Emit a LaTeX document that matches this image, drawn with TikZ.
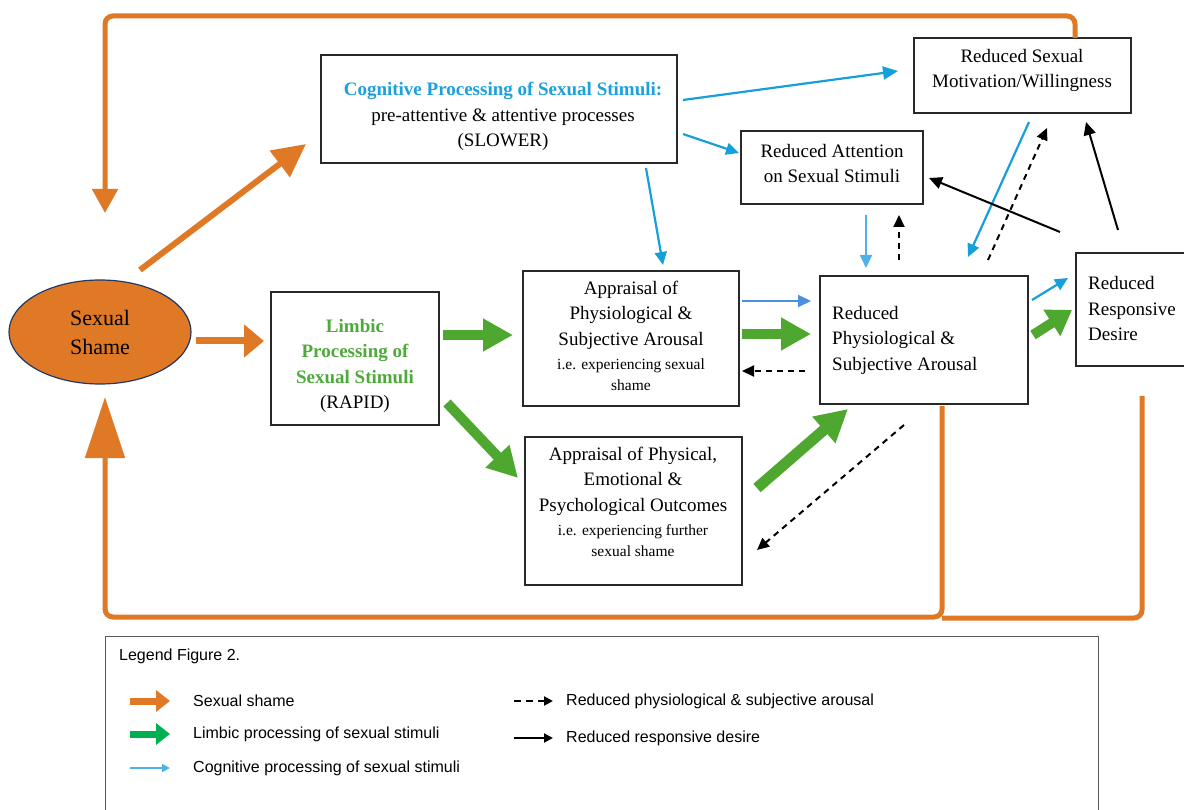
\documentclass[tikz,border=0pt]{standalone}
\usepackage{fontspec}
\setmainfont{Liberation Serif}
\newfontfamily\legendfont{Liberation Sans}
\usetikzlibrary{arrows.meta,shapes.geometric,calc}
\definecolor{shameorange}{RGB}{224,121,38}
\definecolor{limgreen}{RGB}{78,167,46}
\definecolor{cogblue}{RGB}{22,160,218}
\definecolor{midblue}{RGB}{74,144,222}
\definecolor{legblue}{RGB}{77,178,230}
\definecolor{leggreen}{RGB}{0,176,80}
\definecolor{titleblue}{RGB}{27,161,219}
\definecolor{titlegreen}{RGB}{78,170,58}
\definecolor{navyline}{RGB}{31,56,100}
\definecolor{boxline}{RGB}{40,40,40}
\begin{document}
\begin{tikzpicture}[x=1pt,y=-1pt,
  box/.style={draw=boxline,line width=1.6pt,inner sep=0pt},
  maintxt/.style={font=\fontsize{19}{25.5}\selectfont,align=center,inner sep=0pt},
  smalltxt/.style={font=\fontsize{15.5}{21}\selectfont,align=center,inner sep=0pt},
  orangeline/.style={draw=shameorange,line width=5pt,rounded corners=8pt},
  greenarrow/.style={draw=limgreen,line width=10pt,-{Triangle[length=30pt,width=31pt]}},
  bluearrow/.style={draw=cogblue,line width=2.2pt,-{Triangle[length=13pt,width=12pt]}},
  dasharrow/.style={draw=black,line width=2pt,dash pattern=on 6pt off 5pt,-{Triangle[length=12pt,width=11pt]}},
  solidarrow/.style={draw=black,line width=2pt,-{Triangle[length=13pt,width=12pt]}},
  legtxt/.style={font=\legendfont\fontsize{16}{19}\selectfont,anchor=west,inner sep=0pt}]
\clip (0,0) rectangle (1184,810);
\fill[white] (0,0) rectangle (1184,810);

% ---------- boxes ----------
\node[draw=navyline,line width=1.2pt,fill=shameorange,ellipse,minimum width=182pt,minimum height=104pt,
  font=\fontsize{22}{29}\selectfont,align=center] (shame) at (100,332) {Sexual\\Shame};
\node[box,minimum width=356pt,minimum height=108pt] (cog) at (499,109) {};
\node[box,minimum width=168pt,minimum height=133pt] (lim) at (355,358.5) {};
\node[box,minimum width=216pt,minimum height=135pt] (app1) at (631,338.5) {};
\node[box,minimum width=217pt,minimum height=148pt] (app2) at (633.5,511) {};
\node[box,minimum width=208pt,minimum height=128pt] (red) at (924,340) {};
\node[box,minimum width=217pt,minimum height=75pt] (mot) at (1022.5,75.5) {};
\node[box,minimum width=182pt,minimum height=73pt] (att) at (832,167.5) {};
\node[box,minimum width=114pt,minimum height=113pt] (des) at (1133,309.5) {};

% ---------- texts ----------
\node[maintxt] (cogtxt) at (503,116.5) {{\color{titleblue}\bfseries Cognitive Processing of Sexual Stimuli:}\\pre-attentive \& attentive processes\\(SLOWER)};
\node[maintxt] (limtxt) at (355,366) {{\color{titlegreen}\bfseries Limbic}\\{\color{titlegreen}\bfseries Processing of}\\{\color{titlegreen}\bfseries Sexual Stimuli}\\(RAPID)};
\node[maintxt] (app1txt) at (631,315) {Appraisal of\\Physiological \&\\Subjective Arousal};
\node[smalltxt] (app1sub) at (631,375) {i.e. experiencing sexual\\shame};
\node[maintxt] (app2txt) at (633,481) {Appraisal of Physical,\\Emotional \&\\Psychological Outcomes};
\node[smalltxt] (app2sub) at (633,541) {i.e. experiencing further\\sexual shame};
\node[maintxt,align=left,anchor=west] (redtxt) at (832,340) {Reduced\\Physiological \&\\Subjective Arousal};
\node[maintxt] (mottxt) at (1022,70.5) {Reduced Sexual\\Motivation/Willingness};
\node[maintxt] (atttxt) at (832,163.5) {Reduced Attention\\on Sexual Stimuli};
\node[maintxt,align=left,anchor=west] (destxt) at (1088,309) {Reduced\\Responsive\\Desire};

% ---------- connector end points ----------
\coordinate (motTop) at (1075,38);
\coordinate (shameTopIn) at (105,213);
\coordinate (shameDiag) at (140,270);
\coordinate (cogIn) at (306,144);
\coordinate (shameOut) at (196,341);
\coordinate (limIn) at (264,341);
\coordinate (redBottom) at (942,406);
\coordinate (shameBottomIn) at (105,397);
\coordinate (desBottom) at (1142,396);
\coordinate (joinPt) at (942,618);

% ---------- orange loops ----------
\draw[orangeline,-{Triangle[length=24pt,width=25pt]}] (motTop) -- (1075,16) -- (105,16) -- (shameTopIn);
\draw[draw=shameorange,line width=6pt,-{Triangle[length=33pt,width=32pt]}] (shameDiag) -- (cogIn);
\draw[draw=shameorange,line width=7pt,-{Triangle[length=20pt,width=32pt]}] (shameOut) -- (limIn);
\draw[orangeline,-{Triangle[length=61pt,width=39pt]}] (redBottom) -- (942,617) -- (105,617) -- (shameBottomIn);
\draw[orangeline] (desBottom) -- (1142,618) -- (joinPt);

% ---------- green arrows ----------
\draw[greenarrow] (443,335) coordinate (g1s) -- (513,335) coordinate (g1e);
\draw[greenarrow] (447,403) coordinate (g2s) -- (518,478) coordinate (g2e);
\draw[greenarrow] (742,334) coordinate (g3s) -- (811,334) coordinate (g3e);
\draw[greenarrow,line width=11pt,-{Triangle[length=32pt,width=33pt]}] (757,488) coordinate (g4s) -- (848,409) coordinate (g4e);
\draw[greenarrow,-{Triangle[length=24pt,width=30pt]}] (1033,335) coordinate (g5s) -- (1072,310) coordinate (g5e);

% ---------- blue arrows ----------
\draw[bluearrow,-{Triangle[length=15pt,width=13pt]}] (683,100) coordinate (b1s) -- (898,71) coordinate (b1e);
\draw[bluearrow] (683,134) coordinate (b2s) -- (739,153) coordinate (b2e);
\draw[bluearrow] (646,168) coordinate (b3s) -- (663,265) coordinate (b3e);
\draw[bluearrow,draw=legblue,line width=1.8pt] (866,215) coordinate (b4s) -- (866,268) coordinate (b4e);
\draw[bluearrow] (1029,122) coordinate (b5s) -- (968,257) coordinate (b5e);
\draw[bluearrow,draw=midblue,line width=2pt] (742,301) coordinate (b6s) -- (811,301) coordinate (b6e);
\draw[bluearrow] (1032,300) coordinate (b7s) -- (1068,278) coordinate (b7e);

% ---------- dashed arrows ----------
\draw[dasharrow] (805,371) coordinate (d1s) -- (742,371) coordinate (d1e);
\draw[dasharrow] (904,425) coordinate (d2s) -- (757,550) coordinate (d2e);
\draw[dasharrow] (899,260) coordinate (d3s) -- (899,215) coordinate (d3e);
\draw[dasharrow] (988,260) coordinate (d4s) -- (1047,128) coordinate (d4e);

% ---------- solid black arrows ----------
\draw[solidarrow] (1060,232) coordinate (s1s) -- (929,178) coordinate (s1e);
\draw[solidarrow] (1118,230) coordinate (s2s) -- (1086,122) coordinate (s2e);

% ---------- legend ----------
\draw[draw=black!65,line width=1pt] (105,815) -- (105,636) -- (1098,636) -- (1098,815);
\node[legtxt] (legtitle) at (119,656) {Legend Figure 2.};
\coordinate (lo1) at (130,701); \coordinate (lo2) at (170,701);
\coordinate (lg1) at (130,734); \coordinate (lg2) at (170,734);
\coordinate (lb1) at (130,768); \coordinate (lb2) at (170,768);
\coordinate (ld1) at (514,701); \coordinate (ld2) at (553,701);
\coordinate (ls1) at (514,738); \coordinate (ls2) at (553,738);
\draw[draw=shameorange,line width=7pt,-{Triangle[length=14pt,width=21pt]}] (lo1) -- (lo2);
\draw[draw=leggreen,line width=7pt,-{Triangle[length=14pt,width=21pt]}] (lg1) -- (lg2);
\draw[draw=legblue,line width=2.5pt,-{Triangle[length=8pt,width=8pt]}] (lb1) -- (lb2);
\draw[draw=black,line width=2pt,dash pattern=on 7pt off 5pt,-{Triangle[length=9pt,width=9pt]}] (ld1) -- (ld2);
\draw[draw=black,line width=2pt,-{Triangle[length=9pt,width=9pt]}] (ls1) -- (ls2);
\node[legtxt] (lt1) at (193,701) {Sexual shame};
\node[legtxt] (lt2) at (193,734) {Limbic processing of sexual stimuli};
\node[legtxt] (lt3) at (193,768) {Cognitive processing of sexual stimuli};
\node[legtxt] (lt4) at (566,701) {Reduced physiological \& subjective arousal};
\node[legtxt] (lt5) at (566,738) {Reduced responsive desire};
\end{tikzpicture}
\end{document}
